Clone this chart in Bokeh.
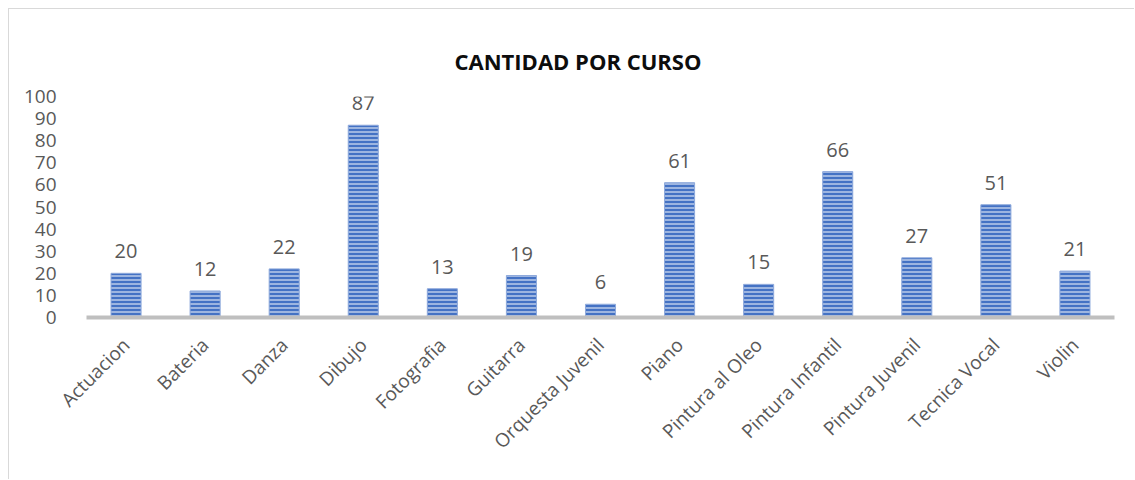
import math
from bokeh.plotting import figure
from bokeh.models import FactorRange, Range1d, FixedTicker, ColumnDataSource
from bokeh.core.properties import value
from bokeh.embed import file_html
from bokeh.resources import INLINE

categories = ["Actuacion", "Bateria", "Danza", "Dibujo", "Fotografia", "Guitarra",
              "Orquesta Juvenil", "Piano", "Pintura al Oleo", "Pintura Infantil",
              "Pintura Juvenil", "Tecnica Vocal", "Violin"]
counts = [20, 12, 22, 87, 13, 19, 6, 61, 15, 66, 27, 51, 21]
y_ticks = [0, 10, 20, 30, 40, 50, 60, 70, 80, 90, 100]
title_text = "CANTIDAD POR CURSO"

FONT = "Open Sans"
GRAY = "#595959"

src = ColumnDataSource(dict(cat=categories, val=counts, lbl=[str(v) for v in counts]))

W, H = 1126, 471
p = figure(x_range=FactorRange(*categories), y_range=Range1d(0, 100),
           width=W, height=H, output_backend="svg", toolbar_location=None,
           min_border_left=77, min_border_right=21, min_border_top=87, min_border_bottom=163)
p.styles = {"margin-left": "8px", "margin-top": "8px",
            "border-left": "1px solid #D9D9D9", "border-top": "1px solid #D9D9D9"}
p.outline_line_color = None
p.background_fill_color = "white"
p.border_fill_color = "white"
p.xgrid.grid_line_color = None
p.ygrid.grid_line_color = None

p.title.text = title_text
p.title.align = "left"
p.title.vertical_align = "middle"
p.title.offset = 368
p.title.standoff = 40
p.title.text_font = FONT
p.title.text_font_size = "22px"
p.title.text_font_style = "bold"
p.title.text_color = "#0D0D0D"

p.vbar(x="cat", top="val", width=0.38, source=src,
       fill_color="#4472C4", line_color="#8FAADC", line_width=1,
       hatch_pattern="horizontal_line", hatch_color="#B4C7E7",
       hatch_scale=4, hatch_weight=1.6)

p.text(x="cat", y="val", text="lbl", source=src, y_offset=-15,
       text_align="center", text_baseline="bottom",
       text_font=value(FONT), text_font_size="20px", text_color=GRAY)

# axes
p.yaxis.ticker = FixedTicker(ticks=y_ticks)
p.yaxis.axis_line_color = None
p.yaxis.major_tick_line_color = None
p.yaxis.minor_tick_line_color = None
p.yaxis.major_label_standoff = 24
p.yaxis.major_label_text_font = FONT
p.yaxis.major_label_text_font_size = "19px"
p.yaxis.major_label_text_color = GRAY

p.xaxis.axis_line_color = "#BFBFBF"
p.xaxis.axis_line_width = 4
p.xaxis.major_tick_line_color = None
p.xaxis.minor_tick_line_color = None
p.xaxis.major_label_orientation = math.pi / 4
p.xaxis.major_label_standoff = 18
p.xaxis.major_label_text_font = FONT
p.xaxis.major_label_text_font_size = "19px"
p.xaxis.major_label_text_color = GRAY

open("out.html", "w").write(file_html(p, INLINE))
